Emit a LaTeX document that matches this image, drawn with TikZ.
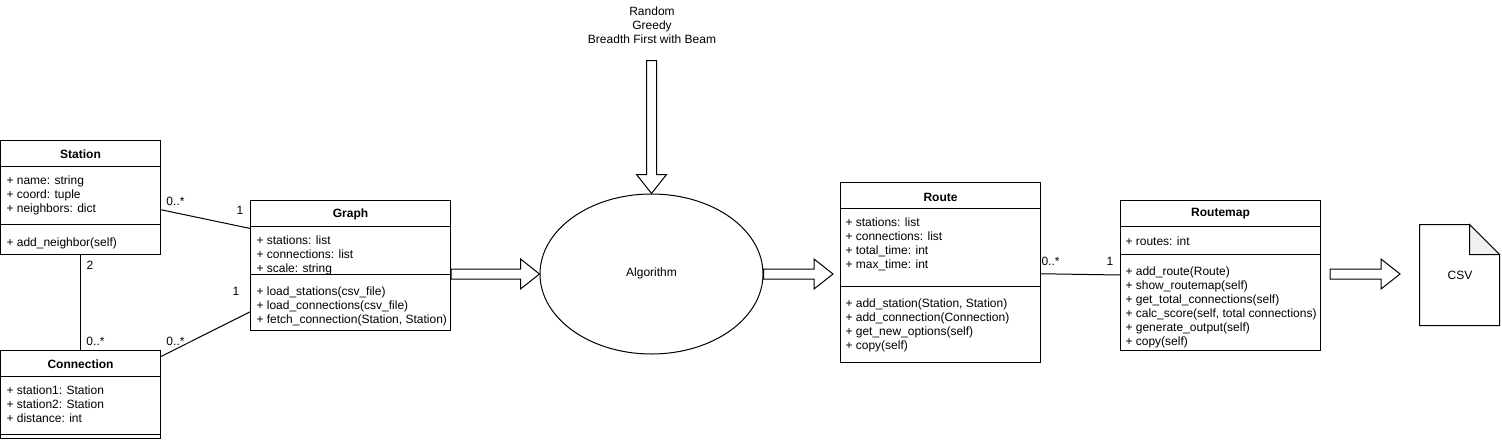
\documentclass[tikz,border=0pt]{standalone}
\usepackage{fontspec}
\setmainfont{Liberation Sans}
\usetikzlibrary{shapes, calc}
\tikzstyle{classbox} = [draw, rectangle, inner sep=0pt, line width=0.75pt]
\tikzstyle{classname} = [font=\fontsize{9}{10.5}\selectfont\bfseries, inner sep=0pt]
\tikzstyle{classtext} = [anchor=north west, align=left, inner sep=0pt, font=\fontsize{9}{10.5}\selectfont, execute at begin node=\strut]
\tikzstyle{multi} = [font=\fontsize{9}{10.5}\selectfont, inner sep=0pt]
\tikzstyle{blockline} = [draw, fill=white, line width=0.75pt, line join=miter]
\newcommand{\blockarrow}[2]{%
	\path[blockline] ($(#1)!3.75pt!90:(#2)$)
		-- ($(#2)!14.25pt!(#1)!3.75pt!90:(#2)$)
		-- ($(#2)!14.25pt!(#1)!11.25pt!90:(#2)$)
		-- (#2)
		-- ($(#2)!14.25pt!(#1)!11.25pt!-90:(#2)$)
		-- ($(#2)!14.25pt!(#1)!3.75pt!-90:(#2)$)
		-- ($(#1)!3.75pt!-90:(#2)$) -- cycle;}
\begin{document}
\begin{tikzpicture}[x=0.75pt, y=-0.75pt, line width=0.75pt]
	\useasboundingbox (0,0) rectangle (1502,439);

	% Station
	\node [classbox, minimum width=120pt, minimum height=85.5pt] (station) at (80.5,197) {};
	\node [classname] (stationname) at (80.5,154) {Station};
	\node [classtext] (stationattrs) at (6,175) {+ name: string\\+ coord: tuple\\+ neighbors: dict};
	\node [classtext] (stationops) at (6,236) {+ add\_neighbor(self)};
	\foreach \y in {166,224}
		\draw (station.west |- 0,\y) -- (station.east |- 0,\y);

	% Connection
	\node [classbox, minimum width=120pt, minimum height=66pt] (connection) at (80.5,394) {};
	\node [classname] (connectionname) at (80.5,364) {Connection};
	\node [classtext] (connectionattrs) at (6,385) {+ station1: Station\\+ station2: Station\\+ distance: int};
	\foreach \y in {376,434}
		\draw (connection.west |- 0,\y) -- (connection.east |- 0,\y);

	% Graph
	\node [classbox, minimum width=150pt, minimum height=97.5pt] (graph) at (350.5,265) {};
	\node [classname] (graphname) at (350.5,214) {Graph};
	\node [classtext] (graphattrs) at (256,235) {+ stations: list\\+ connections: list\\+ scale: string};
	\node [classtext] (graphops) at (256,286.5) {+ load\_stations(csv\_file)\\+ load\_connections(csv\_file)\\+ fetch\_connection(Station, Station)};
	\foreach \y in {226,274}
		\draw (graph.west |- 0,\y) -- (graph.east |- 0,\y);

	% Algorithm
	\node [draw, ellipse, inner sep=0pt, minimum width=167.25pt, minimum height=120pt] (algorithm) at (651.5,274) {};
	\node [multi] (algorithmname) at (651.5,273) {Algorithm};
	\node [multi, align=center] (searches) at (652,25.5) {Random\\Greedy\\Breadth First with Beam};

	% Route
	\node [classbox, minimum width=150pt, minimum height=135pt] (route) at (940.5,272) {};
	\node [classname] (routename) at (940.5,197) {Route};
	\node [classtext] (routeattrs) at (845,217) {+ stations: list\\+ connections: list\\+ total\_time: int\\+ max\_time: int};
	\node [classtext] (routeops) at (845,298) {+ add\_station(Station, Station)\\+ add\_connection(Connection)\\+ get\_new\_options(self)\\+ copy(self)};
	\foreach \y in {208,286}
		\draw (route.west |- 0,\y) -- (route.east |- 0,\y);

	% Routemap
	\node [classbox, minimum width=150pt, minimum height=112.5pt] (routemap) at (1220.5,275) {};
	\node [classname] (routemapname) at (1220.5,214) {Routemap};
	\node [classtext] (routemapattrs) at (1125,235) {+ routes: int};
	\node [classtext] (routemapops) at (1125,266.5) {+ add\_route(Route)\\+ show\_routemap(self)\\+ get\_total\_connections(self)\\+ calc\_score(self, total connections)\\+ generate\_output(self)\\+ copy(self)};
	\foreach \y in {226,254}
		\draw (routemap.west |- 0,\y) -- (routemap.east |- 0,\y);

	% CSV file
	\node [minimum width=60pt, minimum height=75pt, inner sep=0pt] (csv) at (1460,275) {};
	\draw [fill=white] (csv.north west) -- ++(50,0) -- ++(30,30) |- (csv.south west) -- cycle;
	\draw [fill=black!6] (csv.north west) ++(50,0) -- ++(0,30) -- ++(30,0) -- cycle;
	\node [multi] (csvname) at (1460,275.5) {CSV};

	% associations
	\draw (station.-9) -- (graph.160);
	\draw (connection.25) -- (graph.205);
	\draw (station.south) -- (connection.north);
	\draw (route.-1) -- (routemap.west);

	% multiplicities
	\node [multi] (m1) at (175.5,201) {0..*};
	\node [multi] (m2) at (240,210) {1};
	\node [multi] (m3) at (175.5,341) {0..*};
	\node [multi] (m4) at (236,291) {1};
	\node [multi] (m5) at (90,265) {2};
	\node [multi] (m6) at (95.5,341) {0..*};
	\node [multi] (m7) at (1050.5,261) {0..*};
	\node [multi] (m8) at (1110,261) {1};

	% block arrows
	\coordinate (topstart) at (651.5,60.5);
	\coordinate (routetip) at (833,274);
	\coordinate (csvstart) at (1330,274);
	\coordinate (csvtip) at (1400,274);
	\blockarrow{topstart}{algorithm.north}
	\blockarrow{graph.east |- algorithm.west}{algorithm.west}
	\blockarrow{algorithm.east}{routetip}
	\blockarrow{csvstart}{csvtip}
\end{tikzpicture}
\end{document}
